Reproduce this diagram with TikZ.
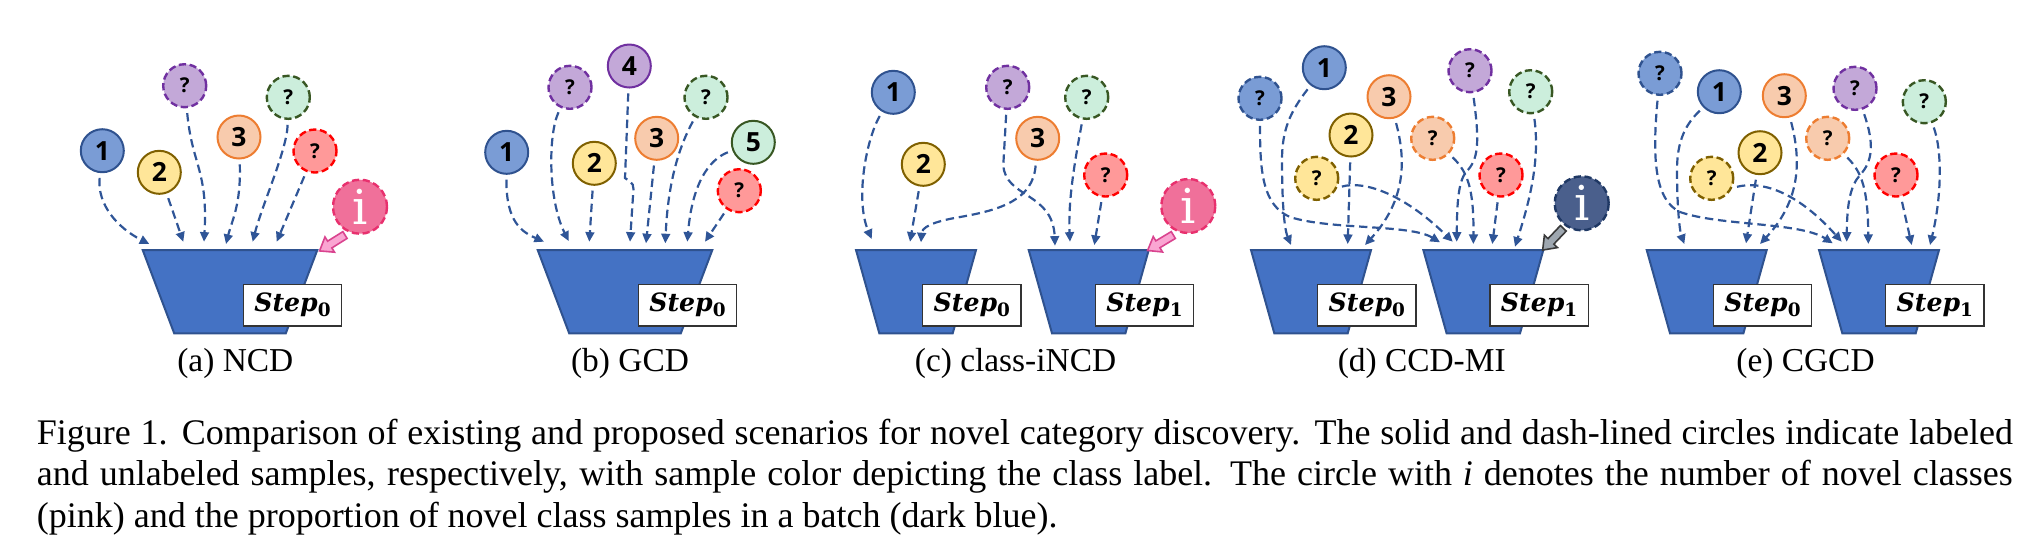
\documentclass[tikz,border=0pt]{standalone}
\usepackage{fontspec}
\setmainfont{Liberation Serif}
\newfontfamily\numfont{Open Sans}
\newfontfamily\stepfont{DejaVu Serif}
\usetikzlibrary{arrows.meta,calc}

\definecolor{bluF}{HTML}{7A9CD5}
\definecolor{bluD}{HTML}{2F528F}
\definecolor{yelF}{HTML}{FFE699}
\definecolor{yelD}{HTML}{7F6000}
\definecolor{purF}{HTML}{C3A8D8}
\definecolor{purD}{HTML}{7030A0}
\definecolor{oraF}{HTML}{F8CBAD}
\definecolor{oraD}{HTML}{ED7D31}
\definecolor{greF}{HTML}{CCEEDC}
\definecolor{greD}{HTML}{385723}
\definecolor{redF}{HTML}{FF9999}
\definecolor{redD}{HTML}{FF0000}
\definecolor{pinkF}{HTML}{F0709A}
\definecolor{pinkD}{HTML}{E8306E}
\definecolor{navF}{HTML}{4A5F8C}
\definecolor{navD}{HTML}{1F3864}
\definecolor{funF}{HTML}{4472C4}
\definecolor{funD}{HTML}{2F528F}
\definecolor{flowC}{HTML}{2F5597}
\definecolor{parF}{HTML}{FAA5D2}
\definecolor{parD}{HTML}{D9448F}
\definecolor{grayF}{HTML}{9EA7B0}
\definecolor{grayD}{HTML}{3A3A3A}

\tikzset{
 smp/.style={circle, minimum size=10.75pt, inner sep=0pt, line width=0.5pt},
 lab/.style={smp, draw=#1D, fill=#1F, font=\numfont\bfseries\fontsize{6.6}{7}\selectfont},
 unl/.style={smp, draw=#1D, fill=#1F, line width=0.6pt, dash pattern=on 1.8pt off 0.9pt, font=\numfont\bfseries\fontsize{5.1}{6}\selectfont},
 infoc/.style={circle, minimum size=13.5pt, inner sep=0pt, line width=0.6pt, dash pattern=on 1.8pt off 0.9pt, draw=#1D, fill=#1F, text=white, font=\stepfont\fontsize{12}{12}\selectfont},
 flow/.style={draw=flowC, line width=0.55pt, dash pattern=on 2.1pt off 1.2pt, -{Triangle[length=2.4pt,width=2.2pt]}, shorten <=1.2pt},
 funnel/.style={fill=funF, draw=funD, line width=0.5pt},
 stepbox/.style={draw=black!80, line width=0.35pt, fill=white, minimum width=24.6pt, minimum height=10.4pt, inner sep=0pt, font=\stepfont\bfseries\itshape\fontsize{6.3}{7}\selectfont},
 subcap/.style={anchor=base, font=\fontsize{8.35}{10}\selectfont},
 blk/.style={fill=#1F, draw=#1D, line width=0.4pt, line join=miter},
}
\newcommand{\stepTxt}[1]{Step\raisebox{-0.35ex}{\upshape\fontsize{4.6}{5}\selectfont #1}}
\newcommand{\funBig}[3]{%
 \coordinate (#1) at (#2,250);
 \path[funnel] ($(#1)+(-87.3,0)$) -- ($(#1)+(87.3,0)$) -- ($(#1)+(55.8,83.3)$) -- ($(#1)+(-55.8,83.3)$) -- cycle;
 \node[stepbox] (#1s) at ($(#1)+(62.5,55.2)$) {\stepTxt{#3}};
}
\newcommand{\funSmall}[3]{%
 \coordinate (#1) at (#2,250);
 \path[funnel] ($(#1)+(-60,0)$) -- ($(#1)+(60,0)$) -- ($(#1)+(36.7,83.3)$) -- ($(#1)+(-36.7,83.3)$) -- cycle;
 \node[stepbox] (#1s) at ($(#1)+(55.8,55.2)$) {\stepTxt{#3}};
}

\begin{document}
\begin{tikzpicture}[x=0.25pt,y=-0.25pt]
\useasboundingbox (0,0) rectangle (2044,550);

% ---------- (a) NCD ----------
\funBig{fa}{230}{0}
\node[lab=blu] (a1) at (102.3,150.7) {1};
\node[lab=yel] (a2) at (159.3,172.3) {2};
\node[unl=pur] (aq1) at (184.7,85.7) {?};
\node[lab=ora] (a3) at (239,137) {3};
\node[unl=gre] (aq2) at (288.3,97.3) {?};
\node[unl=red] (aq3) at (315,151) {?};
\node[infoc=pink] (ai) at (360,206.7) {i};
\draw[flow] (a1) .. controls (97,205) and (118,228) .. ($(fa)+(-80.7,-6)$);
\draw[flow] (a2) -- ($(fa)+(-46.7,-8.3)$);
\draw[flow] (aq1) .. controls (192,165) and (208,170) .. ($(fa)+(-26,-8.3)$);
\draw[flow] (a3) .. controls (241,205) and (232,220) .. ($(fa)+(-4,-6)$);
\draw[flow] (aq2) .. controls (287,150) and (262,205) .. ($(fa)+(22.7,-8.3)$);
\draw[flow] (aq3) -- ($(fa)+(46.7,-8.3)$);
\path[blk=par, shift={(345,235)}, rotate=212] (0,4) -- (18,4) -- (18,9) -- (30,0) -- (18,-9) -- (18,-4) -- (0,-4) -- cycle;

% ---------- (b) GCD ----------
\funBig{fb}{625}{0}
\node[lab=blu] (b1) at (506.7,152.3) {1};
\node[unl=pur] (bq1) at (570,87.3) {?};
\node[lab=pur] (b4) at (629.3,66) {4};
\node[lab=yel] (b2) at (594.3,163.3) {2};
\node[lab=ora] (b3) at (656.7,138.3) {3};
\node[unl=gre] (bq2) at (706,97.3) {?};
\node[lab=gre] (b5) at (753.3,142.3) {5};
\node[unl=red] (bq3) at (739.3,190.7) {?};
\draw[flow] (b1) .. controls (506,222) and (522,232) .. ($(fb)+(-81,-8.3)$);
\draw[flow] (bq1) .. controls (548,135) and (548,200) .. ($(fb)+(-56.3,-9)$);
\draw[flow] (b2) -- ($(fb)+(-35.7,-8.3)$);
\draw[flow] (b4) -- (625,178) .. controls (634,184) .. (633,196) -- ($(fb)+(5,-8.3)$);
\draw[flow] (b3) -- ($(fb)+(21,-6.7)$);
\draw[flow] (bq2) .. controls (680,145) and (668,180) .. ($(fb)+(40.3,-6.7)$);
\draw[flow] (b5) .. controls (708,160) and (692,185) .. ($(fb)+(62.3,-8.3)$);
\draw[flow] (bq3) -- ($(fb)+(80,-8.3)$);

% ---------- (c) class-iNCD ----------
\funSmall{fc0}{916}{0}
\funSmall{fc1}{1088.7}{1}
\node[lab=blu] (c1) at (893.3,92.3) {1};
\node[lab=yel] (c2) at (923.3,164.3) {2};
\node[unl=pur] (cq1) at (1007.7,87.3) {?};
\node[lab=ora] (c3) at (1037.7,138.3) {3};
\node[unl=gre] (cq2) at (1086.7,97.3) {?};
\node[unl=red] (cq3) at (1105.7,175) {?};
\node[infoc=pink] (ci) at (1188.3,206) {i};
\draw[flow] (c1) .. controls (866,140) and (855,200) .. ($(fc0)+(-44.3,-11)$);
\draw[flow] (c2) -- ($(fc0)+(-6,-8.3)$);
\draw[flow] (c3) .. controls (1033,200) and (1000,210) .. (960,217) .. controls (930,222) and (922,228) .. ($(fc0)+(5,-7.7)$);
\draw[flow] (cq1) -- (1003.3,165) .. controls (1005,198) and (1053,192) .. ($(fc1)+(-33.7,-4.3)$);
\draw[flow] (cq2) .. controls (1075,160) and (1068,200) .. ($(fc1)+(-18.7,-8.3)$);
\draw[flow] (cq3) -- ($(fc1)+(5.6,-5)$);
\path[blk=par, shift={(1173.3,235)}, rotate=211] (0,4) -- (18,4) -- (18,9) -- (30,0) -- (18,-9) -- (18,-4) -- (0,-4) -- cycle;

% ---------- (d) CCD-MI ----------
\funSmall{fd0}{1311}{0}
\funSmall{fd1}{1483.3}{1}
\node[unl=blu] (dq1) at (1260,98.3) {?};
\node[lab=blu] (d1) at (1324.3,67.7) {1};
\node[lab=ora] (d3) at (1389,96.7) {3};
\node[lab=yel] (d2) at (1351,135) {2};
\node[unl=yel] (dq2) at (1316.7,178.3) {?};
\node[unl=ora] (dq3) at (1432.7,138.3) {?};
\node[unl=pur] (dq4) at (1470,70.7) {?};
\node[unl=gre] (dq5) at (1530.7,91.7) {?};
\node[unl=red] (dq6) at (1501,175) {?};
\node[infoc=nav] (di) at (1581.7,203.3) {i};
\draw[flow] (dq1) .. controls (1260,170) and (1262,205) .. (1290,217) .. controls (1330,230) and (1410,224) .. ($(fd1)+(-43.3,-7.7)$);
\draw[flow] (d1) .. controls (1290,112) and (1282,130) .. (1282,160) .. controls (1282,200) and (1284,228) .. ($(fd0)+(-20,-5)$);
\draw[flow] (d2) -- ($(fd0)+(36.7,-6)$);
\draw[flow] (d3) .. controls (1406,160) and (1406,200) .. ($(fd0)+(54,-5)$);
\draw[flow] (dq2.-25) .. controls (1365,180) and (1405,195) .. ($(fd1)+(-30.6,-8.3)$);
\draw[flow] (dq3) .. controls (1468,172) and (1474,190) .. ($(fd1)+(-10,-6)$);
\draw[flow] (dq4) .. controls (1480,145) and (1478,160) .. (1466,172) .. controls (1458,182) and (1457,205) .. ($(fd1)+(-26.6,-8.3)$);
\draw[flow] (dq5) .. controls (1540,160) and (1530,200) .. ($(fd1)+(31.7,-3.3)$);
\draw[flow] (dq6) -- ($(fd1)+(9,-6)$);
\path[blk=gray, shift={(1563.3,228.3)}, rotate=226.5] (0,4) -- (18,4) -- (18,9) -- (30,0) -- (18,-9) -- (18,-4) -- (0,-4) -- cycle;

% ---------- (e) CGCD ----------
\funSmall{fe0}{1706.7}{0}
\funSmall{fe1}{1879}{1}
\node[unl=blu] (eq1) at (1660,73.3) {?};
\node[lab=blu] (e1) at (1719.3,91.7) {1};
\node[lab=ora] (e3) at (1784.3,95.7) {3};
\node[lab=yel] (e2) at (1760,152.7) {2};
\node[unl=yel] (eq2) at (1711.7,178.3) {?};
\node[unl=ora] (eq3) at (1827.7,138.3) {?};
\node[unl=pur] (eq4) at (1855,88.3) {?};
\node[unl=gre] (eq5) at (1924.3,101.7) {?};
\node[unl=red] (eq6) at (1896,175) {?};
\draw[flow] (eq1) .. controls (1652,160) and (1655,200) .. (1680,212) .. controls (1720,226) and (1800,222) .. ($(fe1)+(-46.3,-6.7)$);
\draw[flow] (e1) .. controls (1686,124) and (1677,140) .. (1677,170) .. controls (1677,210) and (1680,232) .. ($(fe0)+(-22.4,-6)$);
\draw[flow] (e2) -- ($(fe0)+(39.3,-6.7)$);
\draw[flow] (e3) .. controls (1801,160) and (1801,200) .. ($(fe0)+(53.3,-6)$);
\draw[flow] (eq2.-25) .. controls (1765,180) and (1800,195) .. ($(fe1)+(-37.3,-8.3)$);
\draw[flow] (eq3) .. controls (1862,172) and (1868,190) .. ($(fe1)+(-10.7,-6)$);
\draw[flow] (eq4) .. controls (1875,145) and (1872,162) .. (1860,175) .. controls (1850,186) and (1847,205) .. ($(fe1)+(-32.3,-8.3)$);
\draw[flow] (eq6) -- ($(fe1)+(32.7,-5)$);
\draw[flow] (eq5) .. controls (1942,150) and (1942,195) .. ($(fe1)+(51,-5)$);

% ---------- sub-captions ----------
\node[subcap] (sa) at (235.3,371.7) {(a) NCD};
\node[subcap] (sb) at (630,371.7) {(b) GCD};
\node[subcap] (sc) at (1015.5,371.7) {(c) class-iNCD};
\node[subcap] (sd) at (1421.7,371.7) {(d) CCD-MI};
\node[subcap] (se) at (1805.5,371.7) {(e) CGCD};

% ---------- caption ----------
\node[anchor=north west, inner sep=0pt, text width=494pt, align=justify, font=\fontsize{9}{10.4}\selectfont] (cap) at (36,418) {Figure 1. Comparison of existing and proposed scenarios for novel category discovery. The solid and dash-lined circles indicate labeled\linebreak and unlabeled samples, respectively, with sample color depicting the class label. The circle with \textit{i} denotes the number of novel classes\linebreak (pink) and the proportion of novel class samples in a batch (dark blue).};
\end{tikzpicture}
\end{document}
